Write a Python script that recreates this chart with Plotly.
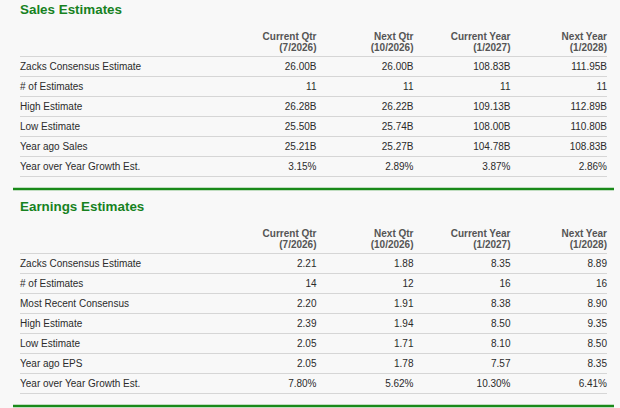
import plotly.graph_objects as go

# ---------------- data ----------------
columns = ["Current Qtr", "Next Qtr", "Current Year", "Next Year"]
periods = ["(7/2026)", "(10/2026)", "(1/2027)", "(1/2028)"]

sales_rows = ["Zacks Consensus Estimate", "# of Estimates", "High Estimate",
              "Low Estimate", "Year ago Sales", "Year over Year Growth Est."]
sales_kinds = ["B", "n", "B", "B", "B", "%"]
sales_current_qtr = [26.00, 11, 26.28, 25.50, 25.21, 3.15]
sales_next_qtr = [26.00, 11, 26.22, 25.74, 25.27, 2.89]
sales_current_year = [108.83, 11, 109.13, 108.00, 104.78, 3.87]
sales_next_year = [111.95, 11, 112.89, 110.80, 108.83, 2.86]

earn_rows = ["Zacks Consensus Estimate", "# of Estimates", "Most Recent Consensus",
             "High Estimate", "Low Estimate", "Year ago EPS", "Year over Year Growth Est."]
earn_kinds = ["f", "n", "f", "f", "f", "f", "%"]
earn_current_qtr = [2.21, 14, 2.20, 2.39, 2.05, 2.05, 7.80]
earn_next_qtr = [1.88, 12, 1.91, 1.94, 1.71, 1.78, 5.62]
earn_current_year = [8.35, 16, 8.38, 8.50, 8.10, 7.57, 10.30]
earn_next_year = [8.89, 16, 8.90, 9.35, 8.50, 8.35, 6.41]

# ---------------- style ----------------
W, H = 620, 408
BG = "#f8f8f8"
GREEN = "#1a8a1a"
TITLE_GREEN = "#17821f"
TEXT = "#2b2b2b"
HEAD = "#555555"
GRID = "#d6d6d6"
FONT = "Liberation Sans, Arial, sans-serif"
LABEL_X = 20
COL_RIGHT = [316.5, 413.5, 510.5, 607]
ROW_H = 20
TXT_DY = 0.8


def fmt(v, kind):
    if kind == "B":
        return f"{v:.2f}B"
    if kind == "n":
        return f"{int(v)}"
    if kind == "%":
        return f"{v:.2f}%"
    return f"{v:.2f}"


fig = go.Figure()
shapes = []


def add_section(title, rows, kinds, cols, top):
    # title
    fig.add_trace(go.Scatter(
        x=[LABEL_X], y=[top + 10.5], mode="text", text=[f"<b>{title}</b>"],
        textposition="middle right",
        textfont=dict(family=FONT, size=13.4, color=TITLE_GREEN),
        hoverinfo="skip", showlegend=False))
    # headers
    for c in range(len(columns)):
        fig.add_trace(go.Scatter(
            x=[COL_RIGHT[c], COL_RIGHT[c]], y=[top + 36.5 + TXT_DY, top + 48 + TXT_DY],
            mode="text", text=[f"<b>{columns[c]}</b>", f"<b>{periods[c]}</b>"],
            textposition="middle left",
            textfont=dict(family=FONT, size=10, color=HEAD),
            hoverinfo="skip", showlegend=False))
    div = top + 56.5
    shapes.append(dict(type="line", xref="x", yref="y", x0=LABEL_X, x1=COL_RIGHT[-1],
                       y0=div, y1=div, line=dict(color=GRID, width=1.2)))
    ys = [div + 10.5 + TXT_DY + ROW_H * i for i in range(len(rows))]
    fig.add_trace(go.Scatter(
        x=[LABEL_X] * len(rows), y=ys, mode="text", text=rows,
        textposition="middle right",
        textfont=dict(family=FONT, size=10, color=TEXT),
        hoverinfo="skip", showlegend=False))
    for c, vals in enumerate(cols):
        fig.add_trace(go.Scatter(
            x=[COL_RIGHT[c]] * len(vals), y=ys, mode="text",
            text=[fmt(v, k) for v, k in zip(vals, kinds)],
            textposition="middle left",
            textfont=dict(family=FONT, size=10, color=TEXT),
            hoverinfo="skip", showlegend=False))
    for i in range(len(rows)):
        yl = div + ROW_H * (i + 1)
        shapes.append(dict(type="line", xref="x", yref="y", x0=LABEL_X, x1=COL_RIGHT[-1],
                           y0=yl, y1=yl, line=dict(color=GRID, width=1.2)))
    g = div + ROW_H * len(rows) + 12.5
    shapes.append(dict(type="line", xref="x", yref="y", x0=13, x1=614,
                       y0=g, y1=g, line=dict(color=GREEN, width=2.5)))


add_section("Sales Estimates", sales_rows, sales_kinds,
            [sales_current_qtr, sales_next_qtr, sales_current_year, sales_next_year], 0)
add_section("Earnings Estimates", earn_rows, earn_kinds,
            [earn_current_qtr, earn_next_qtr, earn_current_year, earn_next_year], 197)

fig.update_layout(
    width=W, height=H, margin=dict(l=0, r=0, t=0, b=0),
    paper_bgcolor=BG, plot_bgcolor=BG, shapes=shapes,
    xaxis=dict(range=[0, W], visible=False, fixedrange=True),
    yaxis=dict(range=[H, 0], visible=False, fixedrange=True),
    showlegend=False,
)
fig.write_html(
    "out.html",
    config={"displayModeBar": False},
    post_script="document.body.style.margin='0px';document.body.style.background='" + BG + "';",
)
